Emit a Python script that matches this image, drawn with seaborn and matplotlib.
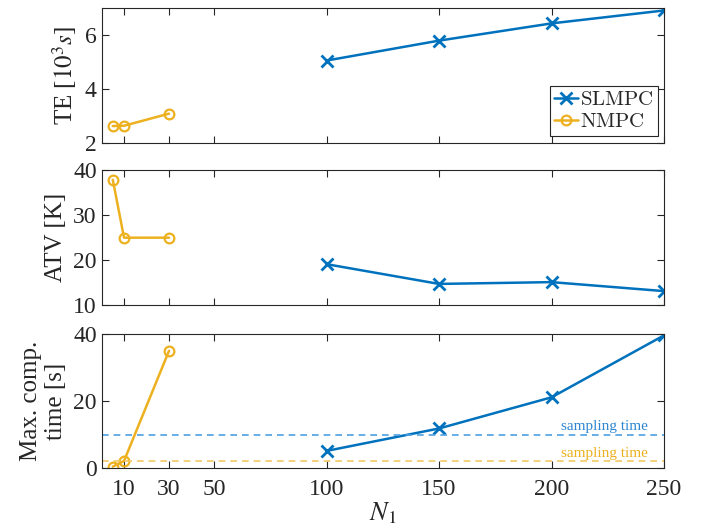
import matplotlib
matplotlib.use("Agg")
import matplotlib.pyplot as plt
from matplotlib.font_manager import FontProperties
import seaborn as sns
import pandas as pd

# ---- data ----
n_slmpc = [100, 150, 200, 250]
n_nmpc = [5, 10, 30]
te_slmpc = [5.05, 5.79, 6.43, 6.91]
te_nmpc = [2.62, 2.63, 3.08]
atv_slmpc = [19.1, 14.7, 15.1, 13.1]
atv_nmpc = [37.9, 25.0, 25.0]
ct_slmpc = [5.1, 11.8, 21.1, 39.6]
ct_nmpc = [0.4, 2.1, 35.0]
ts_slmpc = 10
ts_nmpc = 2
xticks = [10, 30, 50, 100, 150, 200, 250]

sns.set_style("ticks")
plt.rcParams['font.family'] = ['Liberation Serif', 'DejaVu Serif']
plt.rcParams['mathtext.fontset'] = 'stix'

BLUE = '#0072BD'
ORANGE = '#EDB120'
AX = '#262626'

fig = plt.figure(figsize=(7.12, 5.29), dpi=100)
left, width = 0.1426, 0.790
boxes = [(0.7302, 0.2546), (0.4234, 0.2546), (0.1153, 0.2533)]
axes = [fig.add_axes([left, b, width, h]) for b, h in boxes]

def df(x, y):
    return pd.DataFrame({'x': x, 'y': y})

series = [(te_slmpc, te_nmpc), (atv_slmpc, atv_nmpc), (ct_slmpc, ct_nmpc)]
for ax, (ys, yn) in zip(axes, series):
    sns.lineplot(data=df(n_slmpc, ys), x='x', y='y', ax=ax, color=BLUE, lw=1.8,
                 marker='x', markersize=9, markeredgewidth=2, markeredgecolor=BLUE,
                 label=r'$\mathrm{SLMPC}$')
    sns.lineplot(data=df(n_nmpc, yn), x='x', y='y', ax=ax, color=ORANGE, lw=1.8,
                 marker='o', markersize=7, markerfacecolor='none',
                 markeredgewidth=1.6, markeredgecolor=ORANGE,
                 label=r'$\mathrm{NMPC}$')

ylims = [(2, 7), (10, 40), (0, 40)]
yticks = [[2, 4, 6], [10, 20, 30, 40], [0, 20, 40]]
ylabels = [r'TE [$10^3 s$]', 'ATV [K]', 'Max. comp.\ntime [s]']
for i, ax in enumerate(axes):
    ax.set_xlim(0, 250)
    ax.set_ylim(*ylims[i])
    ax.set_xticks(xticks)
    ax.set_yticks(yticks[i])
    ax.tick_params(direction='in', top=True, right=True, length=5, width=0.8,
                   colors=AX, labelsize=17, labelcolor=AX)
    ax.tick_params(axis='x', pad=8)
    for s in ax.spines.values():
        s.set_visible(True)
        s.set_color(AX)
        s.set_linewidth(0.8)
    ax.set_ylabel(ylabels[i], fontsize=18, color=AX, labelpad=4)
    ax.set_xlabel('')
    if i < 2:
        ax.set_xticklabels([])
    leg = ax.get_legend()
    if leg:
        leg.remove()

h, l = axes[0].get_legend_handles_labels()
leg = axes[0].legend(h, l, loc='lower right', frameon=True, fancybox=False,
                     prop=FontProperties(family='Liberation Serif', size=15, math_fontfamily='cm'),
                     edgecolor=AX, framealpha=1, borderpad=0.2, labelspacing=0.12,
                     handlelength=1.15, handletextpad=0.1, borderaxespad=0.3)
leg.get_frame().set_linewidth(0.8)

ax3 = axes[2]
ax3.axhline(ts_slmpc, color='#4DA0E0', ls='--', lw=1.2, dashes=(4, 3))
ax3.axhline(ts_nmpc, color='#F2C862', ls='--', lw=1.2, dashes=(4, 3))
ax3.text(243, ts_slmpc + 0.5, 'sampling time', color='#2E86D0', fontsize=11,
         ha='right', va='bottom')
ax3.text(243, ts_nmpc + 0.5, 'sampling time', color='#EDB120', fontsize=11,
         ha='right', va='bottom')
ax3.set_xlabel(r'$N_1$', fontsize=19, color=AX, labelpad=0)

fig.savefig('out.png', dpi=100)
